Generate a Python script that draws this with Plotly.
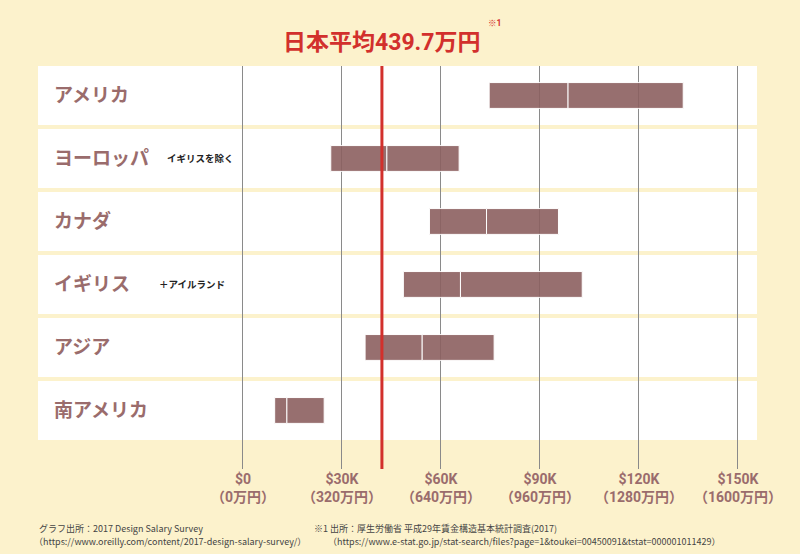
import plotly.graph_objects as go

# ---- data ----
regions = ["アメリカ", "ヨーロッパ", "カナダ", "イギリス", "アジア", "南アメリカ"]
notes = ["", "イギリスを除く", "", "＋アイルランド", "", ""]
low_k = [74.6, 26.6, 56.5, 48.6, 37.0, 9.6]      # salary range start ($K)
median_k = [98.5, 43.6, 73.8, 65.9, 54.3, 13.3]  # split point ($K)
high_k = [133.4, 65.5, 95.6, 102.8, 76.1, 24.6]  # salary range end ($K)
japan_avg_k = 42.1                               # 日本平均439.7万円
tick_vals = [0, 30, 60, 90, 120, 150]
tick_usd = ["$0", "$30K", "$60K", "$90K", "$120K", "$150K"]
tick_yen = ["（0万円）", "（320万円）", "（640万円）", "（960万円）", "（1280万円）", "（1600万円）"]

BG = "#FCF2CC"
LABEL = "#9A6C6C"
BAR = "#8C6060"
RED = "#D2302C"
JP = "Roboto, 'Noto Sans CJK JP', sans-serif"

fig = go.Figure()
fig.add_trace(go.Bar(
    y=regions, x=[m - l for l, m in zip(low_k, median_k)], base=low_k,
    orientation="h", width=0.41, marker=dict(color=BAR, line=dict(color="white", width=1)),
    opacity=0.9, showlegend=False, hoverinfo="skip"))
fig.add_trace(go.Bar(
    y=regions, x=[h - m for m, h in zip(median_k, high_k)], base=median_k,
    orientation="h", width=0.41, marker=dict(color=BAR, line=dict(color="white", width=1)),
    opacity=0.9, showlegend=False, hoverinfo="skip"))

shapes = []
for i, r in enumerate(regions):
    shapes.append(dict(type="rect", xref="paper", yref="y", x0=0, x1=1,
                       y0=i - 0.468, y1=i + 0.468, fillcolor="white",
                       line=dict(width=0), layer="below"))
shapes.append(dict(type="line", xref="x", yref="paper", x0=japan_avg_k, x1=japan_avg_k,
                   y0=0, y1=1, line=dict(color=RED, width=3), layer="above"))


# paper-coordinate helpers for text outside plot area
def px(xp):
    return (xp - 38) / 719


def py(yp):
    return (469 - yp) / 403


annotations = []
for i, (r, n) in enumerate(zip(regions, notes)):
    annotations.append(dict(text=f"<b>{r}</b>", x=px(52), xref="paper", y=r, yref="y",
                            xanchor="left", yanchor="middle", showarrow=False,
                            font=dict(family=JP, size=19, color=LABEL)))
    if n:
        nx = {1: 165, 3: 157}[i]
        annotations.append(dict(text=f"<b>{n}</b>", x=px(nx), xref="paper", y=r, yref="y",
                                xanchor="left", yanchor="middle", showarrow=False,
                                font=dict(family=JP, size=9.5, color="#222222")))

annotations.append(dict(text="<b>日本平均439.7万円</b>", x=px(381), y=py(42), xref="paper", yref="paper",
                        xanchor="center", yanchor="middle", showarrow=False,
                        font=dict(family=JP, size=23, color=RED)))
annotations.append(dict(text="<b>※1</b>", x=px(486), y=py(23), xref="paper", yref="paper",
                        xanchor="left", yanchor="middle", showarrow=False,
                        font=dict(family=JP, size=8.5, color=RED)))
FN = "'Liberation Sans Narrow', 'Noto Sans CJK JP', sans-serif"
foot = [
    ("グラフ出所：2017 Design Salary Survey", 37, 528),
    ("（https://www.oreilly.com/content/2017-design-salary-survey/）", 32, 541),
    ("※1 出所：厚生労働省 平成29年賃金構造基本統計調査(2017)", 312, 528),
    ("（https://www.e-stat.go.jp/stat-search/files?page=1&toukei=00450091&tstat=000001011429）", 326, 541),
]
for t, xx, yy in foot:
    annotations.append(dict(text=t, x=px(xx), y=py(yy), xref="paper", yref="paper",
                            xanchor="left", yanchor="middle", showarrow=False,
                            font=dict(family=FN, size=9, color="#444444")))

fig.update_layout(
    width=800, height=554,
    margin=dict(l=38, r=43, t=66, b=85),
    paper_bgcolor=BG, plot_bgcolor=BG,
    barmode="overlay",
    shapes=shapes,
    annotations=annotations,
    xaxis=dict(range=[-62.12, 155.76], tickvals=tick_vals,
               ticktext=[f"<b>{u}</b><br><b>{y}</b>" for u, y in zip(tick_usd, tick_yen)],
               showgrid=True, gridcolor="#8A8A8A", gridwidth=1, zeroline=False,
               showline=False, ticks="", tickfont=dict(family=JP, size=14, color=LABEL),
               fixedrange=True),
    yaxis=dict(range=[5.929, -0.468], showticklabels=False, showgrid=False,
               zeroline=False, showline=False, fixedrange=True),
)

fig.write_html("out.html")
